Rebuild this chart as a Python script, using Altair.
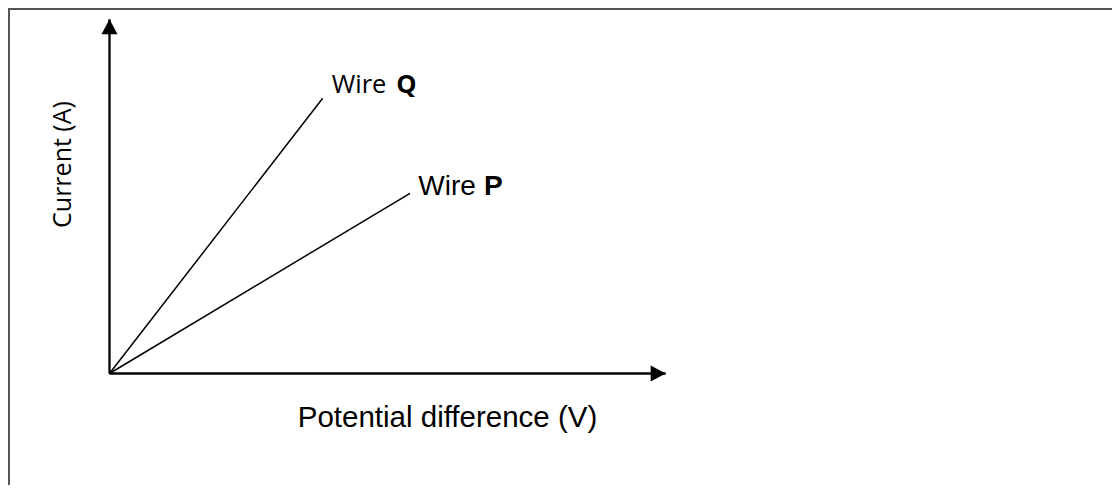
import altair as alt
import pandas as pd

# ---- data (arbitrary units: axis arrows end at 10) ----
wires = ["Q", "P"]
end_pd = [3.833, 5.403]          # potential difference at end of each line
end_current = [7.770, 5.088]     # current at end of each line
label_pd = [3.995, 5.552]        # label anchor (left / baseline)
label_current = [7.911, 5.040]
axis_max = 10
x_title = "Potential difference (V)"
y_title = "Current (A)"

# ---- layout ----
W, H = 1104, 477
OX, OY = 101.5, 365.5            # origin in chart px
XTIP, YTIP = 657.7, 11.3
kx = (XTIP - OX) / axis_max
ky = (OY - YTIP) / axis_max
xdom = [-OX / kx, (W - OX) / kx]
ydom = [-(H - OY) / ky, OY / ky]

xs = alt.Scale(domain=xdom, range=[0, W], nice=False, zero=False)
ys = alt.Scale(domain=ydom, range=[H, 0], nice=False, zero=False)

lines = pd.DataFrame({"wire": wires, "x0": [0, 0], "y0": [0, 0],
                      "x1": end_pd, "y1": end_current})
axes = pd.DataFrame({"x0": [0, 0], "y0": [0, 0],
                     "x1": [axis_max, 0], "y1": [0, axis_max]})

X = lambda f: alt.X(f, type="quantitative", scale=xs, axis=None)
Y = lambda f: alt.Y(f, type="quantitative", scale=ys, axis=None)

wire_lines = alt.Chart(lines).mark_rule(color="black", strokeWidth=1.5).encode(
    x=X("x0"), y=Y("y0"), x2="x1", y2="y1")

axis_lines = alt.Chart(axes).mark_rule(color="black", strokeWidth=2.3).encode(
    x=X("x0"), y=Y("y0"), x2="x1", y2="y1")

head_right = alt.Chart(pd.DataFrame({"x": [axis_max], "y": [0]})).mark_point(
    shape="M1,0L-1,1.067L-1,-1.067Z", size=225, filled=True, color="black",
    opacity=1, strokeWidth=0, xOffset=-7.5).encode(x=X("x"), y=Y("y"))

head_up = alt.Chart(pd.DataFrame({"x": [0], "y": [axis_max]})).mark_point(
    shape="M0,-1L1.067,1L-1.067,1Z", size=225, filled=True, color="black",
    opacity=1, strokeWidth=0, yOffset=7.5).encode(x=X("x"), y=Y("y"))

label_styles = {
    "Q": dict(font="Open Sans", size=25.5, bold_font="Open Sans", bold_size=25.5, dx=64.5),
    "P": dict(font="Liberation Sans", size=28, bold_font="Liberation Sans", bold_size=28, dx=65.7),
}
label_layers = []
for w, lx, ly in zip(wires, label_pd, label_current):
    st = label_styles[w]
    d = pd.DataFrame({"x": [lx], "y": [ly], "t": ["Wire"], "b": [w]})
    label_layers.append(alt.Chart(d).mark_text(
        align="left", baseline="alphabetic", font=st["font"], fontSize=st["size"],
        color="black").encode(x=X("x"), y=Y("y"), text="t"))
    label_layers.append(alt.Chart(d).mark_text(
        align="left", baseline="alphabetic", font=st["bold_font"], fontSize=st["bold_size"],
        fontWeight="bold", color="black", dx=st["dx"]).encode(x=X("x"), y=Y("y"), text="b"))

xt = alt.Chart(pd.DataFrame({"t": [x_title]})).mark_text(
    align="center", baseline="alphabetic", font="Liberation Sans", fontSize=29.5,
    color="black").encode(x=alt.value(439.5), y=alt.value(419), text="t")

yt = alt.Chart(pd.DataFrame({"t": [y_title]})).mark_text(
    align="center", baseline="middle", font="Open Sans", fontSize=25, angle=270,
    color="black").encode(x=alt.value(54.5), y=alt.value(156.5), text="t")

border_top = alt.Chart(pd.DataFrame({"a": [0]})).mark_rule(color="#555555", strokeWidth=2).encode(
    x=alt.value(0), x2=alt.value(W), y=alt.value(1))
border_left = alt.Chart(pd.DataFrame({"a": [0]})).mark_rule(color="#555555", strokeWidth=2).encode(
    y=alt.value(0), y2=alt.value(H), x=alt.value(1))

chart = alt.layer(border_top, border_left, axis_lines, wire_lines, head_right, head_up,
                  *label_layers, xt, yt).properties(
    width=W, height=H, padding=0,
    autosize=alt.AutoSizeParams(type="none"),
).configure_view(stroke=None).configure(background="white")

chart.save("out.html", embed_options={"renderer": "svg", "actions": False})
